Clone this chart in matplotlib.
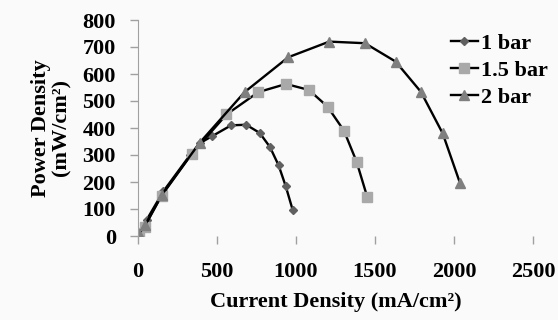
import matplotlib
matplotlib.use("Agg")
import matplotlib.pyplot as plt

# current density (mA/cm2) and power density (mW/cm2)
x_1bar = [5, 55, 160, 330, 395, 470, 590, 685, 770, 835, 890, 935, 980]
y_1bar = [8, 60, 165, 300, 345, 370, 410, 412, 382, 330, 262, 185, 95]

x_15bar = [5, 42, 150, 340, 560, 762, 937, 1082, 1200, 1304, 1384, 1451]
y_15bar = [10, 35, 150, 304, 450, 533, 563, 541, 479, 390, 275, 145]

x_2bar = [5, 45, 150, 390, 675, 951, 1211, 1437, 1631, 1791, 1929, 2038]
y_2bar = [8, 40, 152, 345, 533, 662, 720, 714, 646, 534, 380, 197]

x_ticks = [0, 500, 1000, 1500, 2000, 2500]
y_ticks = [0, 100, 200, 300, 400, 500, 600, 700, 800]

plt.rcParams['font.family'] = ['Liberation Serif', 'DejaVu Serif']
plt.rcParams['font.weight'] = 'bold'

bg = '#fafafa'
fig = plt.figure(figsize=(5.58, 3.2), dpi=100, facecolor=bg)
ax = fig.add_axes([0.2473, 0.2625, 0.7077, 0.675], facecolor=bg)

ax.plot(x_1bar, y_1bar, '-', color='black', lw=1.7, marker='D', ms=4.5,
        mfc='#606060', mec='#606060', label='1 bar')
ax.plot(x_15bar, y_15bar, '-', color='black', lw=1.7, marker='s', ms=7,
        mfc='#a9a9a9', mec='#a9a9a9', label='1.5 bar')
ax.plot(x_2bar, y_2bar, '-', color='black', lw=1.7, marker='^', ms=7.5,
        mfc='#7f7f7f', mec='#7f7f7f', label='2 bar')

ax.set_xlim(0, 2500)
ax.set_ylim(0, 800)
ax.set_xticks(x_ticks)
ax.set_yticks(y_ticks)

for s in ['top', 'right', 'bottom']:
    ax.spines[s].set_visible(False)
ax.spines['left'].set_color('#a0a0a0')
ax.tick_params(axis='both', colors='#a0a0a0', labelcolor='black',
               labelsize=16, length=6, width=1)
ax.tick_params(axis='x', pad=13)
ax.tick_params(axis='y', pad=10)
for lab in ax.get_xticklabels() + ax.get_yticklabels():
    lab.set_fontweight('bold')

ax.set_xlabel('Current Density (mA/cm²)', fontsize=16,
              fontweight='bold', labelpad=7)
ax.set_ylabel('Power Density\n(mW/cm²)', fontsize=16,
              fontweight='bold', labelpad=8, linespacing=1.0)

leg = ax.legend(loc='upper left', bbox_to_anchor=(0.77, 0.98), frameon=False,
                fontsize=16, handlelength=1.2, handletextpad=0.15,
                labelspacing=0.3, borderaxespad=0)
for t in leg.get_texts():
    t.set_fontweight('bold')

fig.savefig('out.png', dpi=100, facecolor=bg)
